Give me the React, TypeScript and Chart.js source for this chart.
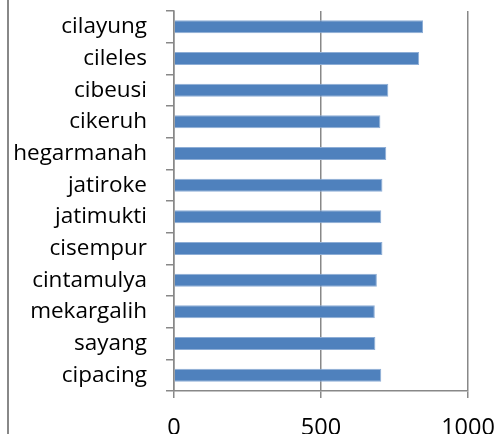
import React, { useEffect, useRef } from "react";
import { Chart, registerables } from "chart.js";

Chart.register(...registerables);

const categories = [
  "cilayung",
  "cileles",
  "cibeusi",
  "cikeruh",
  "hegarmanah",
  "jatiroke",
  "jatimukti",
  "cisempur",
  "cintamulya",
  "mekargalih",
  "sayang",
  "cipacing",
];
const values = [847, 834, 729, 702, 722, 709, 705, 709, 690, 683, 685, 705];
const xMin = 0;
const xMax = 1000;
const xStep = 500;

const borderLine = {
  id: "borderLine",
  beforeDraw(chart: any) {
    const ctx = chart.ctx;
    ctx.save();
    ctx.strokeStyle = "#888888";
    ctx.lineWidth = 2;
    ctx.beginPath();
    ctx.moveTo(8, 0);
    ctx.lineTo(8, chart.height);
    ctx.stroke();
    ctx.restore();
  },
};

export default function App() {
  const ref = useRef<HTMLCanvasElement>(null);
  useEffect(() => {
    document.body.style.margin = "0";
    const yFont = { family: "'Open Sans', sans-serif", size: 22.5 };
    const xFont = { family: "'Open Sans', sans-serif", size: 23.5 };
    const chart = new Chart(ref.current!, {
      type: "bar",
      data: {
        labels: categories,
        datasets: [
          {
            data: values,
            backgroundColor: "#4f81bd",
            borderColor: "#8eaed6",
            borderWidth: 1,
            categoryPercentage: 1,
            barPercentage: 0.41,
          },
        ],
      },
      options: {
        indexAxis: "y",
        animation: false,
        responsive: false,
        maintainAspectRatio: false,
        layout: { padding: { top: 11, right: 34, bottom: 0, left: 0 } },
        plugins: { legend: { display: false }, tooltip: { enabled: false } },
        scales: {
          x: {
            min: xMin,
            max: xMax,
            ticks: {
              stepSize: xStep,
              color: "#000",
              font: xFont,
              padding: 16,
              maxRotation: 0,
              callback: (v: any) => String(v),
            },
            grid: { color: "#888888", lineWidth: 1.5, tickLength: 7 },
            border: { color: "#888888", width: 1.5 },
            afterFit(scale: any) {
              scale.height = 43;
              scale.paddingLeft = 0;
              scale.paddingRight = 0;
            },
          },
          y: {
            ticks: { color: "#000", font: yFont, padding: 19, autoSkip: false },
            grid: { drawOnChartArea: false, color: "#888888", lineWidth: 1.5, tickLength: 8, offset: true },
            border: { color: "#888888", width: 1.5 },
            afterFit(scale: any) {
              scale.width = 174;
              scale.paddingTop = 0;
              scale.paddingBottom = 0;
            },
          },
        },
      },
      plugins: [borderLine],
    });
    return () => chart.destroy();
  }, []);
  return <canvas ref={ref} width={502} height={434} style={{ display: "block" }} />;
}
